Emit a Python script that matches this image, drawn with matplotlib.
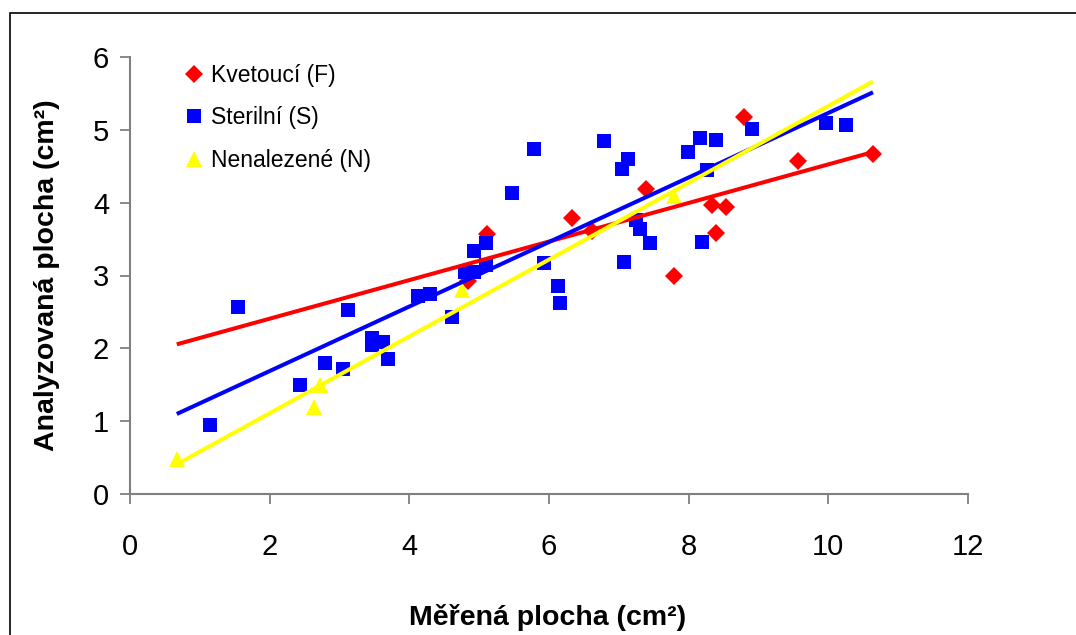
import numpy as np
import matplotlib
matplotlib.use("Agg")
import matplotlib.pyplot as plt
from matplotlib.patches import Rectangle

plt.rcParams['font.family'] = ['Liberation Sans', 'DejaVu Sans']

# Kvetoucí (F)
f_x = [4.84, 5.11, 6.33, 6.62, 7.39, 7.79, 8.33, 8.39, 8.53, 8.79, 9.57, 10.64]
f_y = [2.92, 3.57, 3.79, 3.61, 4.19, 2.99, 3.97, 3.58, 3.94, 5.18, 4.57, 4.67]

# Sterilní (S)
s_x = [1.15, 1.55, 2.43, 2.79, 3.05, 3.12, 3.47, 3.47, 3.62, 3.69, 4.13, 4.30,
       4.61, 4.79, 4.93, 4.92, 5.10, 5.10, 5.47, 5.79, 5.93, 6.13, 6.16, 6.79,
       7.05, 7.13, 7.07, 7.25, 7.30, 7.45, 7.99, 8.16, 8.39, 8.26, 8.19, 8.91,
       9.97, 10.25]
s_y = [0.95, 2.57, 1.50, 1.80, 1.71, 2.53, 2.14, 2.05, 2.09, 1.86, 2.72, 2.75,
       2.43, 3.05, 3.05, 3.33, 3.45, 3.14, 4.13, 4.74, 3.17, 2.86, 2.62, 4.84,
       4.46, 4.60, 3.19, 3.76, 3.64, 3.45, 4.70, 4.89, 4.86, 4.45, 3.46, 5.01,
       5.09, 5.06]

# Nenalezené (N)
n_x = [0.67, 2.63, 2.72, 4.75, 7.79]
n_y = [0.48, 1.19, 1.50, 2.80, 4.09]

labels = ["Kvetoucí (F)", "Sterilní (S)", "Nenalezené (N)"]
colors = ["#ff0000", "#0000ff", "#ffff00"]
x_ticks = [0, 2, 4, 6, 8, 10, 12]
y_ticks = [0, 1, 2, 3, 4, 5, 6]

W, H = 1076, 635
fig = plt.figure(figsize=(W / 100, H / 100), dpi=100)
ax = fig.add_axes([130 / W, 1 - 494 / H, (968 - 130) / W, (494 - 57) / H])

ax.plot(f_x, f_y, linestyle='none', marker='D', markersize=9, color=colors[0],
        markeredgewidth=0, label=labels[0], zorder=3)
ax.plot(s_x, s_y, linestyle='none', marker='s', markersize=10, color=colors[1],
        markeredgewidth=0, label=labels[1], zorder=3)
ax.plot(n_x, n_y, linestyle='none', marker='^', markersize=11, color=colors[2],
        markeredgewidth=0, label=labels[2], zorder=3)

all_x = f_x + s_x + n_x
xr = np.array([min(all_x), max(all_x)])
for xs, ys, c in [(f_x, f_y, colors[0]), (s_x, s_y, colors[1]), (n_x, n_y, colors[2])]:
    k, q = np.polyfit(xs, ys, 1)
    ax.plot(xr, k * xr + q, color=c, linewidth=2.9, zorder=4, solid_capstyle='butt')

ax.set_xlim(0, 12)
ax.set_ylim(0, 6)
ax.set_xticks(x_ticks)
ax.set_yticks(y_ticks)
ax.tick_params(axis='both', labelsize=21, colors='#808080', labelcolor='black',
               length=7, width=1.3, direction='out')
ax.tick_params(axis='x', pad=21)
ax.tick_params(axis='y', pad=8)
for s in ['top', 'right']:
    ax.spines[s].set_visible(False)
for s in ['left', 'bottom']:
    ax.spines[s].set_color('#808080')
    ax.spines[s].set_linewidth(1.5)

ax.set_xlabel("Měřená plocha (cm²)", fontsize=20.5, fontweight='bold')
ax.set_ylabel("Analyzovaná plocha (cm²)", fontsize=20.5, fontweight='bold')
ax.xaxis.set_label_coords((548 - 130) / (968 - 130), (494 - 604) / (494 - 57))
ax.yaxis.set_label_coords((60 - 130) / (968 - 130), 0.5)

ax.legend(loc='upper left', bbox_to_anchor=(0.045, 1.005), frameon=False,
          fontsize=16.5, handletextpad=0.0, labelspacing=0.85, handlelength=1.5,
          borderaxespad=0)

fig.patches.append(Rectangle((10 / W, -0.1), 1.2, 1 - 13 / H + 0.1,
                             transform=fig.transFigure, fill=False,
                             edgecolor='black', linewidth=1.2))

fig.savefig("out.png", dpi=100)
